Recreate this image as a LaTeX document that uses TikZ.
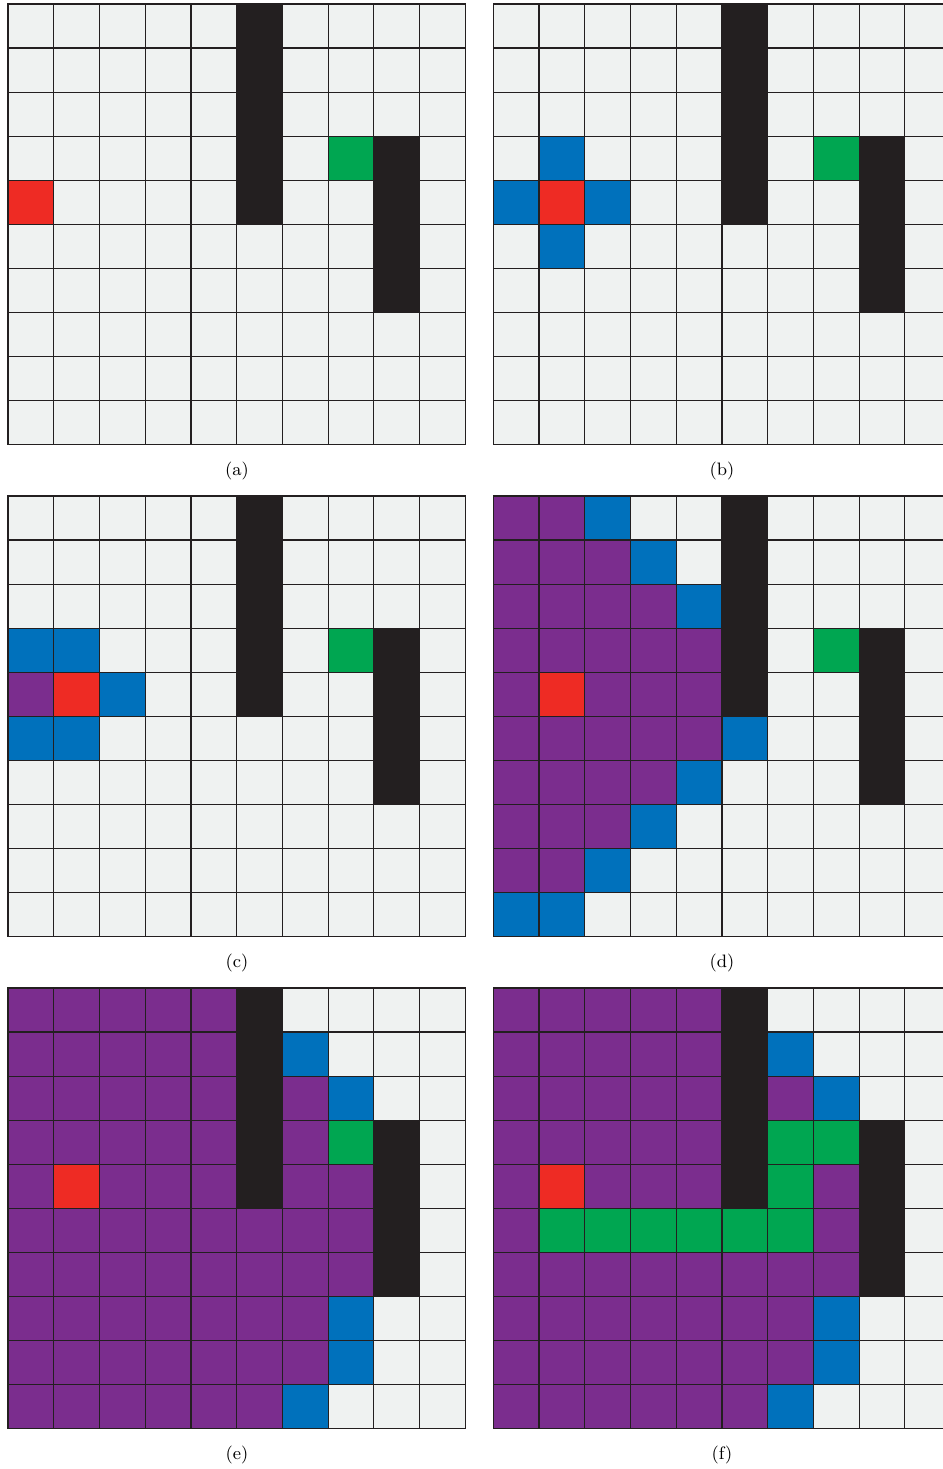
\documentclass[tikz,border=0pt]{standalone}
\usepackage{tikz}
\definecolor{cL}{RGB}{239,242,241}
\definecolor{cK}{RGB}{35,31,32}
\definecolor{cR}{RGB}{238,43,36}
\definecolor{cG}{RGB}{0,166,81}
\definecolor{cB}{RGB}{0,113,188}
\definecolor{cP}{RGB}{123,45,142}
\definecolor{linec}{RGB}{35,31,32}
\tikzset{
  cell/.style={draw=linec, line width=0.6pt},
  sublabel/.style={font=\fontsize{9}{11}\selectfont, inner sep=0pt}
}
\newcommand\cw{45.73}
\newcommand\ch{44.07}
\newcommand\drawgrid[3]{%
  \foreach \row [count=\r from 0] in {#3} {%
    \foreach \v [count=\c from 0] in \row {%
      \path[cell, fill=c\v] ({#1+\c*\cw}, {#2+\r*\ch}) rectangle ++(\cw,\ch);
    }%
  }%
}
\begin{document}
\begin{tikzpicture}[x=0.5pt,y=-0.5pt]
\useasboundingbox (0,0) rectangle (943,1469);
\clip (0,0) rectangle (943,1469);
% (a)
\drawgrid{8}{4}{
{L,L,L,L,L,K,L,L,L,L},
{L,L,L,L,L,K,L,L,L,L},
{L,L,L,L,L,K,L,L,L,L},
{L,L,L,L,L,K,L,G,K,L},
{R,L,L,L,L,K,L,L,K,L},
{L,L,L,L,L,L,L,L,K,L},
{L,L,L,L,L,L,L,L,K,L},
{L,L,L,L,L,L,L,L,L,L},
{L,L,L,L,L,L,L,L,L,L},
{L,L,L,L,L,L,L,L,L,L}}
% (b)
\drawgrid{493.3}{4}{
{L,L,L,L,L,K,L,L,L,L},
{L,L,L,L,L,K,L,L,L,L},
{L,L,L,L,L,K,L,L,L,L},
{L,B,L,L,L,K,L,G,K,L},
{B,R,B,L,L,K,L,L,K,L},
{L,B,L,L,L,L,L,L,K,L},
{L,L,L,L,L,L,L,L,K,L},
{L,L,L,L,L,L,L,L,L,L},
{L,L,L,L,L,L,L,L,L,L},
{L,L,L,L,L,L,L,L,L,L}}
% (c)
\drawgrid{8}{496}{
{L,L,L,L,L,K,L,L,L,L},
{L,L,L,L,L,K,L,L,L,L},
{L,L,L,L,L,K,L,L,L,L},
{B,B,L,L,L,K,L,G,K,L},
{P,R,B,L,L,K,L,L,K,L},
{B,B,L,L,L,L,L,L,K,L},
{L,L,L,L,L,L,L,L,K,L},
{L,L,L,L,L,L,L,L,L,L},
{L,L,L,L,L,L,L,L,L,L},
{L,L,L,L,L,L,L,L,L,L}}
% (d)
\drawgrid{493.3}{496}{
{P,P,B,L,L,K,L,L,L,L},
{P,P,P,B,L,K,L,L,L,L},
{P,P,P,P,B,K,L,L,L,L},
{P,P,P,P,P,K,L,G,K,L},
{P,R,P,P,P,K,L,L,K,L},
{P,P,P,P,P,B,L,L,K,L},
{P,P,P,P,B,L,L,L,K,L},
{P,P,P,B,L,L,L,L,L,L},
{P,P,B,L,L,L,L,L,L,L},
{B,B,L,L,L,L,L,L,L,L}}
% (e)
\drawgrid{8}{988}{
{P,P,P,P,P,K,L,L,L,L},
{P,P,P,P,P,K,B,L,L,L},
{P,P,P,P,P,K,P,B,L,L},
{P,P,P,P,P,K,P,G,K,L},
{P,R,P,P,P,K,P,P,K,L},
{P,P,P,P,P,P,P,P,K,L},
{P,P,P,P,P,P,P,P,K,L},
{P,P,P,P,P,P,P,B,L,L},
{P,P,P,P,P,P,P,B,L,L},
{P,P,P,P,P,P,B,L,L,L}}
% (f)
\drawgrid{493.3}{988}{
{P,P,P,P,P,K,L,L,L,L},
{P,P,P,P,P,K,B,L,L,L},
{P,P,P,P,P,K,P,B,L,L},
{P,P,P,P,P,K,G,G,K,L},
{P,R,P,P,P,K,G,P,K,L},
{P,G,G,G,G,G,G,P,K,L},
{P,P,P,P,P,P,P,P,K,L},
{P,P,P,P,P,P,P,B,L,L},
{P,P,P,P,P,P,P,B,L,L},
{P,P,P,P,P,P,B,L,L,L}}
% labels
\node[sublabel] (la) at (237,471) {(a)};
\node[sublabel] (lb) at (722,471) {(b)};
\node[sublabel] (lc) at (237,963) {(c)};
\node[sublabel] (ld) at (722,963) {(d)};
\node[sublabel] (le) at (237,1455) {(e)};
\node[sublabel] (lf) at (722,1455) {(f)};
\end{tikzpicture}
\end{document}
